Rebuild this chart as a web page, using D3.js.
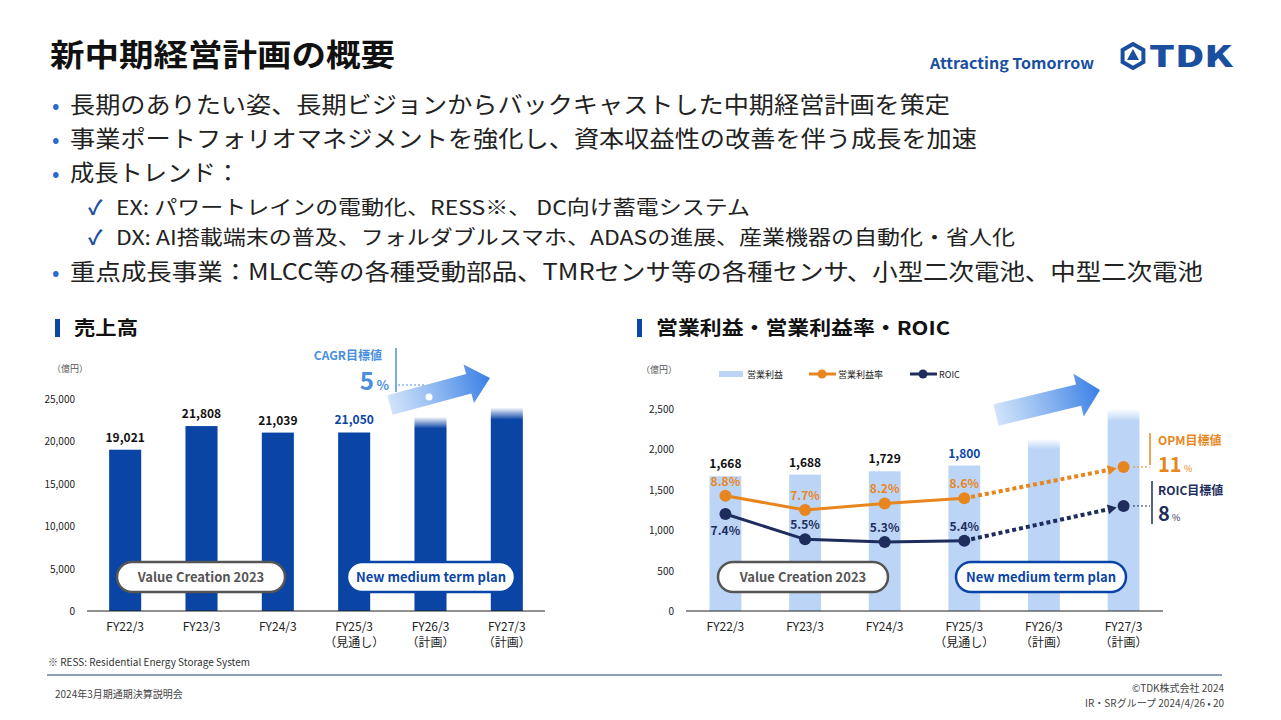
<!DOCTYPE html>
<html><head><meta charset="utf-8">
<script src="https://cdn.jsdelivr.net/npm/d3@7/dist/d3.min.js"></script>
<style>body{margin:0;background:#fff}svg{display:block}text{font-family:"Noto Sans CJK JP","Noto Sans",sans-serif}</style>
</head><body><svg id="c" width="1281" height="720"></svg>
<script>
const categories = ["FY22/3","FY23/3","FY24/3","FY25/3","FY26/3","FY27/3"];
const subLabels = ["","","","（見通し）","（計画）","（計画）"];
const sales = [19021,21808,21039,21050,22900,24000];
const salesLabels = ["19,021","21,808","21,039","21,050","",""];
const opProfit = [1668,1688,1729,1800,2130,2500];
const opLabels = ["1,668","1,688","1,729","1,800","",""];
const opm = [8.8,7.7,8.2,8.6,null,11];
const roic = [7.4,5.5,5.3,5.4,null,8];
const salesTicks = [0,5000,10000,15000,20000,25000];
const opTicks = [0,500,1000,1500,2000,2500];
const bullets = [
 {t:"長期のありたい姿、長期ビジョンからバックキャストした中期経営計画を策定",lvl:0,w:880},
 {t:"事業ポートフォリオマネジメントを強化し、資本収益性の改善を伴う成長を加速",lvl:0,w:907},
 {t:"成長トレンド：",lvl:0,w:170},
 {t:"EX: パワートレインの電動化、RESS※、 DC向け蓄電システム",lvl:1,w:634},
 {t:"DX: AI搭載端末の普及、フォルダブルスマホ、ADASの進展、産業機器の自動化・省人化",lvl:1,w:899},
 {t:"重点成長事業：MLCC等の各種受動部品、TMRセンサ等の各種センサ、小型二次電池、中型二次電池",lvl:0,w:1133}
];
const BLUE="#0a45a6", DARK="#1f2d5c", ORANGE="#e8861e", LIGHT="#bcd5f7";
const svg=d3.select("#c");
const defs=svg.append("defs");
function fadeGrad(id,col){const g=defs.append("linearGradient").attr("id",id).attr("x1",0).attr("x2",0).attr("y1",0).attr("y2",1);
 g.append("stop").attr("offset","0").attr("stop-color",col).attr("stop-opacity",0);
 g.append("stop").attr("offset","0.06").attr("stop-color",col).attr("stop-opacity",1);
 g.append("stop").attr("offset","1").attr("stop-color",col);}
fadeGrad("fb",BLUE);fadeGrad("fl",LIGHT);
const ag=defs.append("linearGradient").attr("id","ar").attr("x1",0).attr("x2",1);
ag.append("stop").attr("offset",0).attr("stop-color","#4a90e8").attr("stop-opacity",0.25);
ag.append("stop").attr("offset",1).attr("stop-color","#3a7fe6");

// header
svg.append("text").attr("x",50).attr("y",66).attr("font-size",31).attr("font-weight",700).attr("fill","#111").attr("textLength",345).attr("lengthAdjust","spacingAndGlyphs").text("新中期経営計画の概要");
svg.append("text").attr("x",930).attr("y",69).attr("font-size",15).attr("font-weight",700).attr("fill","#1a4fa0").attr("font-family","Roboto").attr("textLength",164).attr("lengthAdjust","spacingAndGlyphs").text("Attracting Tomorrow");
svg.append("text").attr("x",1149).attr("y",67).attr("font-size",30).attr("font-weight",900).attr("fill","#1a4fa0").attr("font-family","Liberation Sans").attr("textLength",84).attr("lengthAdjust","spacingAndGlyphs").text("TDK");
const lg=svg.append("g").attr("transform","translate(1133,56)");
lg.append("polygon").attr("points",d3.range(6).map(i=>{const a=Math.PI/3*i+Math.PI/6;return [12*Math.cos(a),12*Math.sin(a)];}).join(" ")).attr("fill","none").attr("stroke","#1a4fa0").attr("stroke-width",4);
lg.append("polygon").attr("points","0,-7 6,4 -6,4").attr("fill","#1a4fa0");

// bullets
const by=[113,147,181,215,245,280];
bullets.forEach((b,i)=>{
 if(b.lvl===0){svg.append("text").attr("x",52).attr("y",by[i]).attr("font-size",22).attr("fill","#2a6ad0").text("•");
  svg.append("text").attr("x",70).attr("y",by[i]).attr("font-size",23).attr("fill","#222").attr("textLength",b.w).attr("lengthAdjust","spacingAndGlyphs").text(b.t);}
 else{svg.append("text").attr("x",88).attr("y",by[i]).attr("font-size",20).attr("font-weight",700).attr("fill","#1a4fa0").text("✓");
  svg.append("text").attr("x",116).attr("y",by[i]).attr("font-size",20).attr("fill","#222").attr("textLength",b.w).attr("lengthAdjust","spacingAndGlyphs").text(b.t);}
});

function sectionTitle(x,t,w){svg.append("rect").attr("x",x).attr("y",319).attr("width",5).attr("height",18).attr("fill",BLUE);
 svg.append("text").attr("x",x+19).attr("y",335).attr("font-size",19).attr("font-weight",700).attr("fill","#111").attr("textLength",w).attr("lengthAdjust","spacingAndGlyphs").text(t);}
sectionTitle(55,"売上高",64);sectionTitle(637,"営業利益・営業利益率・ROIC",294);

function pill(cx,cy,w,t,col){svg.append("rect").attr("x",cx-w/2).attr("y",cy-15).attr("width",w).attr("height",30).attr("rx",15).attr("fill","#fff").attr("stroke",col).attr("stroke-width",2.5);
 svg.append("text").attr("x",cx).attr("y",cy+5).attr("text-anchor","middle").attr("font-size",13).attr("font-weight",700).attr("font-family","Roboto").attr("fill",col==="#555"?"#555":BLUE).text(t);}

function xAxisLabels(x,yb){categories.forEach((c,i)=>{const cx=x(c)+x.bandwidth()/2;
 svg.append("text").attr("x",cx).attr("y",yb).attr("text-anchor","middle").attr("font-size",12).attr("fill","#222").text(c);
 if(subLabels[i])svg.append("text").attr("x",cx).attr("y",yb+16).attr("text-anchor","middle").attr("font-size",12).attr("fill","#222").text(subLabels[i]);});}

function arrow(x1,y1,x2,y2,w){const a=Math.atan2(y2-y1,x2-x1)*180/Math.PI,L=Math.hypot(x2-x1,y2-y1);
 svg.append("polygon").attr("points",`0,${-w/2} ${L-22},${-w/2} ${L-22},${-w} ${L},0 ${L-22},${w} ${L-22},${w/2} 0,${w/2}`)
 .attr("fill","url(#ar)").attr("transform",`translate(${x1},${y1}) rotate(${a})`);}

// chart 1
const x1=d3.scaleBand().domain(categories).range([87,545]).paddingInner(0.58).paddingOuter(0.29);
const y1=d3.scaleLinear().domain([0,25000]).range([611,399]);
salesTicks.forEach(t=>svg.append("text").attr("x",75).attr("y",y1(t)+4).attr("text-anchor","end").attr("font-size",10).attr("fill","#222").text(d3.format(",")(t)));
svg.append("text").attr("x",52).attr("y",372).attr("font-size",9).attr("fill","#555").text("（億円）");
svg.selectAll(".b1").data(sales).join("rect").attr("x",(d,i)=>x1(categories[i])).attr("width",x1.bandwidth())
 .attr("y",d=>y1(d)).attr("height",d=>y1(0)-y1(d)).attr("fill",(d,i)=>i>=4?"url(#fb)":BLUE);
salesLabels.forEach((l,i)=>{if(l)svg.append("text").attr("x",x1(categories[i])+x1.bandwidth()/2).attr("y",y1(sales[i])-8).attr("text-anchor","middle").attr("font-size",12).attr("font-weight",700).attr("fill",i===3?BLUE:"#111").text(l);});
svg.append("line").attr("x1",87).attr("x2",545).attr("y1",611).attr("y2",611).attr("stroke","#222");
xAxisLabels(x1,631);
arrow(390,405,490,378,20);
svg.append("text").attr("x",382).attr("y",360).attr("text-anchor","end").attr("font-size",12).attr("font-weight",700).attr("fill","#4a8ee0").text("CAGR目標値");
svg.append("text").attr("x",374).attr("y",390).attr("text-anchor","end").attr("font-size",24).attr("font-weight",700).attr("fill","#4a8ee0").text("5");
svg.append("text").attr("x",389).attr("y",390).attr("text-anchor","end").attr("font-size",13).attr("font-weight",700).attr("fill","#4a8ee0").text("%");
svg.append("line").attr("x1",396).attr("x2",396).attr("y1",348).attr("y2",392).attr("stroke","#4a8ee0").attr("stroke-width",1.5);
svg.append("line").attr("x1",398).attr("x2",425).attr("y1",385).attr("y2",385).attr("stroke","#4a8ee0").attr("stroke-dasharray","2,2");
svg.append("circle").attr("cx",429).attr("cy",397).attr("r",3.5).attr("fill","#fff");
pill(201,577,168,"Value Creation 2023","#555");pill(431,577,168,"New medium term plan",BLUE);

// chart 2
const x2=d3.scaleBand().domain(categories).range([686,1163]).paddingInner(0.6).paddingOuter(0.295);
const y2=d3.scaleLinear().domain([0,2500]).range([611,409]);
const yOpm=d3.scaleLinear().domain([7.7,11]).range([y2(1250),y2(1782)]);
const yRoic=d3.scaleLinear().domain([5.3,8]).range([y2(854),y2(1300)]);
opTicks.forEach(t=>svg.append("text").attr("x",674).attr("y",y2(t)+4).attr("text-anchor","end").attr("font-size",10).attr("fill","#222").text(d3.format(",")(t)));
svg.append("text").attr("x",641).attr("y",373).attr("font-size",9).attr("fill","#555").text("（億円）");
// legend
svg.append("rect").attr("x",719).attr("y",371).attr("width",24).attr("height",6).attr("fill",LIGHT);
svg.append("text").attr("x",747).attr("y",378).attr("font-size",9).attr("fill","#222").text("営業利益");
svg.append("line").attr("x1",809).attr("x2",836).attr("y1",374).attr("y2",374).attr("stroke",ORANGE).attr("stroke-width",3);
svg.append("circle").attr("cx",822).attr("cy",374).attr("r",4.5).attr("fill",ORANGE);
svg.append("text").attr("x",838).attr("y",378).attr("font-size",9).attr("fill","#222").text("営業利益率");
svg.append("line").attr("x1",910).attr("x2",937).attr("y1",374).attr("y2",374).attr("stroke",DARK).attr("stroke-width",3);
svg.append("circle").attr("cx",923).attr("cy",374).attr("r",4.5).attr("fill",DARK);
svg.append("text").attr("x",939).attr("y",378).attr("font-size",9).attr("fill","#222").text("ROIC");

svg.selectAll(".b2").data(opProfit).join("rect").attr("x",(d,i)=>x2(categories[i])).attr("width",x2.bandwidth())
 .attr("y",d=>y2(d)).attr("height",d=>y2(0)-y2(d)).attr("fill",(d,i)=>i>=4?"url(#fl)":LIGHT);
opLabels.forEach((l,i)=>{if(l)svg.append("text").attr("x",x2(categories[i])+x2.bandwidth()/2).attr("y",y2(opProfit[i])-8).attr("text-anchor","middle").attr("font-size",12).attr("font-weight",700).attr("fill",i===3?BLUE:"#111").text(l);});
svg.append("line").attr("x1",686).attr("x2",1163).attr("y1",611).attr("y2",611).attr("stroke","#222");
xAxisLabels(x2,631);
const cxp=i=>x2(categories[i])+x2.bandwidth()/2;
function series(vals,ys,col,labOff){
 const solid=[0,1,2,3].map(i=>[cxp(i),ys(vals[i])]);
 svg.append("path").attr("d",d3.line()(solid)).attr("fill","none").attr("stroke",col).attr("stroke-width",3);
 const a=[cxp(3),ys(vals[3])],b=[cxp(5),ys(vals[5])];
 const ang=Math.atan2(b[1]-a[1],b[0]-a[0]);const e=[b[0]-16*Math.cos(ang),b[1]-16*Math.sin(ang)];
 svg.append("line").attr("x1",a[0]).attr("y1",a[1]).attr("x2",e[0]).attr("y2",e[1]).attr("stroke",col).attr("stroke-width",4).attr("stroke-dasharray","4,3");
 svg.append("polygon").attr("points","0,-5 9,0 0,5").attr("fill",col).attr("transform",`translate(${e[0]},${e[1]}) rotate(${ang*180/Math.PI})`);
 [0,1,2,3,5].forEach(i=>svg.append("circle").attr("cx",cxp(i)).attr("cy",ys(vals[i])).attr("r",6).attr("fill",col));
 [0,1,2,3].forEach(i=>svg.append("text").attr("x",cxp(i)).attr("y",ys(vals[i])+labOff[i]).attr("text-anchor","middle").attr("font-size",12).attr("font-weight",700).attr("fill",col).text(vals[i]+"%"));
}
series(opm,yOpm,ORANGE,[-10,-10,-10,-10]);
series(roic,yRoic,DARK,[21,-10,-10,-10]);
// target annotations
svg.append("line").attr("x1",1133).attr("x2",1150).attr("y1",yOpm(11)).attr("y2",yOpm(11)).attr("stroke",ORANGE).attr("stroke-dasharray","2,2");
svg.append("line").attr("x1",1150).attr("x2",1150).attr("y1",433).attr("y2",465).attr("stroke",ORANGE).attr("stroke-width",1.5);
svg.append("text").attr("x",1158).attr("y",445).attr("font-size",12).attr("font-weight",700).attr("fill",ORANGE).text("OPM目標値");
svg.append("text").attr("x",1158).attr("y",472).attr("font-size",20).attr("font-weight",700).attr("fill",ORANGE).text("11");
svg.append("text").attr("x",1184).attr("y",472).attr("font-size",9).attr("fill",ORANGE).text("%");
svg.append("line").attr("x1",1133).attr("x2",1150).attr("y1",yRoic(8)).attr("y2",yRoic(8)).attr("stroke",DARK).attr("stroke-dasharray","2,2");
svg.append("line").attr("x1",1152).attr("x2",1152).attr("y1",481).attr("y2",524).attr("stroke",DARK).attr("stroke-width",1.5);
svg.append("text").attr("x",1158).attr("y",495).attr("font-size",12).attr("font-weight",700).attr("fill",DARK).text("ROIC目標値");
svg.append("text").attr("x",1158).attr("y",521).attr("font-size",20).attr("font-weight",700).attr("fill",DARK).text("8");
svg.append("text").attr("x",1172).attr("y",521).attr("font-size",9).attr("fill",DARK).text("%");
arrow(996,415,1100,390,22);
pill(803,577,170,"Value Creation 2023","#555");pill(1041,577,170,"New medium term plan",BLUE);

// footer
svg.append("text").attr("x",48).attr("y",666).attr("font-size",10).attr("fill","#333").text("※ RESS: Residential Energy Storage System");
svg.append("line").attr("x1",47).attr("x2",1222).attr("y1",675).attr("y2",675).attr("stroke","#1f3f6e").attr("stroke-width",1.2);
svg.append("text").attr("x",55).attr("y",698).attr("font-size",10).attr("fill","#444").text("2024年3月期通期決算説明会");
svg.append("text").attr("x",1224).attr("y",692).attr("text-anchor","end").attr("font-size",10).attr("fill","#444").text("©TDK株式会社 2024");
svg.append("text").attr("x",1224).attr("y",707).attr("text-anchor","end").attr("font-size",10).attr("fill","#444").text("IR・SRグループ  2024/4/26 • 20");
</script></body></html>
